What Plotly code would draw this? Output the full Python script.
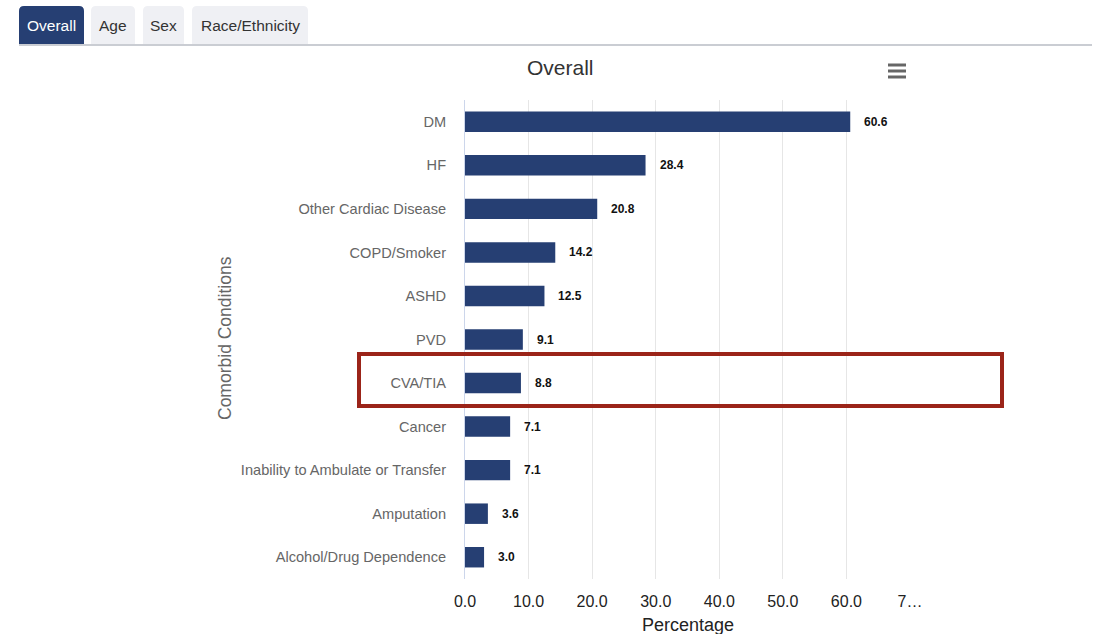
import plotly.graph_objects as go

# Comorbid conditions, overall percentages
conditions = [
    "DM", "HF", "Other Cardiac Disease", "COPD/Smoker", "ASHD", "PVD",
    "CVA/TIA", "Cancer", "Inability to Ambulate or Transfer", "Amputation",
    "Alcohol/Drug Dependence",
]
percentages = [60.6, 28.4, 20.8, 14.2, 12.5, 9.1, 8.8, 7.1, 7.1, 3.6, 3.0]

x_tick_values = [0, 10, 20, 30, 40, 50, 60, 70]
x_tick_labels = ["0.0", "10.0", "20.0", "30.0", "40.0", "50.0", "60.0", "7…"]

tab_labels = ["Overall", "Age", "Sex", "Race/Ethnicity"]

W, H = 1099, 634
L, R, T, B = 465, 189, 100, 55
PW, PH = W - L - R, H - T - B


def px(x):
    return (x - L) / PW


def py(y):
    return 1 - (y - T) / PH


BAR_COLOR = "#263f73"

fig = go.Figure(
    go.Bar(
        x=percentages,
        y=conditions,
        orientation="h",
        marker=dict(color=BAR_COLOR, line=dict(width=0)),
        width=0.47,
        hoverinfo="x+y",
    )
)

# value labels next to each bar
for c, v in zip(conditions, percentages):
    fig.add_annotation(
        x=v, y=c, xref="x", yref="y", text=f"<b>{v:.1f}</b>",
        showarrow=False, xanchor="left", xshift=12,
        font=dict(size=12, color="#111111"),
    )

shapes = []
annotations = []

# tab strip
tab_bounds = [(19, 84), (91, 135), (143, 184), (192, 308)]
for (x0, x1), label in zip(tab_bounds, tab_labels):
    active = label == "Overall"
    r = 5
    path = (
        f"M {px(x0)},{py(44)} L {px(x0)},{py(6 + r)} "
        f"Q {px(x0)},{py(6)} {px(x0 + r)},{py(6)} "
        f"L {px(x1 - r)},{py(6)} Q {px(x1)},{py(6)} {px(x1)},{py(6 + r)} "
        f"L {px(x1)},{py(44)} Z"
    )
    shapes.append(dict(
        type="path", path=path, xref="paper", yref="paper",
        fillcolor=BAR_COLOR if active else "#eff0f4", line=dict(width=0),
        layer="above",
    ))
    annotations.append(dict(
        x=px((x0 + x1) / 2), y=py(25.5), xref="paper", yref="paper",
        text=label, showarrow=False, xanchor="center", yanchor="middle",
        font=dict(size=15.5, color="#ffffff" if active else "#333333",
                  family="Liberation Sans, Arial, sans-serif"),
    ))

shapes.append(dict(
    type="line", xref="paper", yref="paper",
    x0=px(19), x1=px(1092), y0=py(45), y1=py(45),
    line=dict(color="#b8bcc4", width=1.5),
))

# menu icon
for yy in (65, 71, 77):
    shapes.append(dict(
        type="line", xref="paper", yref="paper",
        x0=px(888), x1=px(906), y0=py(yy), y1=py(yy),
        line=dict(color="#666666", width=3),
    ))

# highlight box around CVA/TIA
shapes.append(dict(
    type="rect", xref="paper", yref="paper",
    x0=px(359), x1=px(1002), y0=py(354), y1=py(406),
    line=dict(color="#9b2419", width=4), fillcolor="rgba(0,0,0,0)",
))

annotations.append(dict(
    x=px(560), y=py(67), xref="paper", yref="paper", text="Overall",
    showarrow=False, xanchor="center", yanchor="middle",
    font=dict(size=21, color="#333333"),
))
annotations.append(dict(
    x=px(225), y=py(338), xref="paper", yref="paper",
    text="Comorbid Conditions", textangle=-90, showarrow=False,
    xanchor="center", yanchor="middle",
    font=dict(size=17.5, color="#666666"),
))
annotations.append(dict(
    x=px(688), y=py(625), xref="paper", yref="paper", text="Percentage",
    showarrow=False, xanchor="center", yanchor="middle",
    font=dict(size=18, color="#222222"),
))

for a in annotations:
    fig.add_annotation(**a)

fig.update_layout(
    width=W, height=H,
    margin=dict(l=L, r=R, t=T, b=B, pad=0),
    paper_bgcolor="white", plot_bgcolor="white",
    font=dict(family="Liberation Sans, Arial, sans-serif"),
    showlegend=False,
    shapes=shapes,
    xaxis=dict(
        range=[0, 70], tickvals=x_tick_values, ticktext=x_tick_labels,
        showgrid=True, gridcolor="#e6e6e6", gridwidth=1,
        zeroline=False, showline=False,
        ticks="outside", ticklen=8, tickcolor="rgba(0,0,0,0)",
        tickfont=dict(size=16, color="#222222"),
        fixedrange=True,
    ),
    yaxis=dict(
        categoryorder="array", categoryarray=conditions, autorange="reversed",
        showgrid=False, zeroline=False,
        showline=True, linecolor="#ccd6eb", linewidth=1,
        ticks="outside", ticklen=15, tickcolor="rgba(0,0,0,0)",
        tickfont=dict(size=14.6, color="#666666"),
        fixedrange=True,
    ),
)

fig.write_html("out.html", config={"displayModeBar": False})
